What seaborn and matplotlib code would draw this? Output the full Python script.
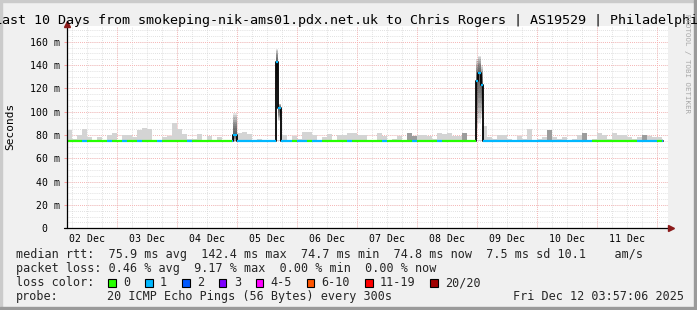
import numpy as np
import pandas as pd
import matplotlib
matplotlib.use("Agg")
import matplotlib.pyplot as plt
from matplotlib.patches import Rectangle
import seaborn as sns

# ---------------- data ----------------
title = ("Last 10 Days from smokeping-nik-ams01.pdx.net.uk to Chris Rogers "
         "| AS19529 | Philadelphia")
day_labels = ["02 Dec", "03 Dec", "04 Dec", "05 Dec", "06 Dec",
              "07 Dec", "08 Dec", "09 Dec", "10 Dec", "11 Dec"]
# hours since Dec 2 04:00 (left edge of the graph)
label_hours = [8, 32, 56, 80, 104, 128, 152, 176, 200, 224]
midnight_hours = [20, 44, 68, 92, 116, 140, 164, 188, 212, 236]
y_ticks = [0, 20, 40, 60, 80, 100, 120, 140, 160]
y_tick_labels = ["0  ", "20 m", "40 m", "60 m", "80 m", "100 m", "120 m", "140 m", "160 m"]

bin_hours = 2.0
data_end = 238.6
median_base = 75.0
# top of the smoke (ms) per 2-hour bin
smoke_top = [84, 77, 80, 85, 78, 76, 78, 76, 80, 82,
             76, 80, 80, 78, 84, 86, 85, 76, 76, 78,
             79, 90, 85, 81, 77, 77, 81, 76, 79, 76,
             78, 76, 76, 76, 82, 83, 81, 76, 77, 76,
             76, 76, 76, 80, 76, 79, 77, 83, 83, 80,
             76, 78, 81, 76, 80, 80, 82, 82, 80, 80,
             76, 76, 82, 79, 76, 77, 79, 76, 82, 79,
             80, 80, 79, 77, 82, 81, 82, 79, 79, 82,
             76, 76, 76, 88, 78, 77, 80, 80, 77, 76,
             79, 77, 85, 76, 77, 78, 84, 78, 77, 78,
             76, 77, 80, 82, 76, 77, 82, 80, 77, 82,
             80, 80, 78, 77, 78, 80, 79, 78, 78, 77]
smoke_dark = [0, 0, 0, 0, 0, 0, 0, 0, 0, 0,
              0, 0, 0, 0, 0, 0, 0, 0, 0, 0,
              0, 0, 0, 0, 0, 0, 0, 0, 0, 0,
              0, 0, 0, 0, 0, 0, 0, 0, 0, 0,
              0, 0, 0, 0, 0, 0, 0, 0, 0, 0,
              0, 0, 0, 0, 0, 0, 0, 0, 0, 0,
              0, 0, 0, 0, 0, 0, 0, 0, 1, 1,
              0, 0, 0, 0, 0, 0, 0, 0, 0, 1,
              0, 0, 0, 0, 0, 0, 0, 0, 0, 0,
              0, 0, 0, 0, 0, 0, 1, 0, 0, 0,
              0, 0, 0, 1, 0, 0, 0, 0, 0, 0,
              0, 0, 0, 0, 0, 1, 0, 0, 0, 0]
# lost pings per bin (0 -> green, 1 -> light blue)
loss_count = [0, 0, 0, 1, 0, 0, 0, 0, 1, 0,
              0, 1, 0, 0, 1, 0, 0, 0, 1, 0,
              0, 0, 0, 0, 1, 0, 0, 0, 0, 0,
              0, 0, 0, 1, 1, 1, 1, 1, 1, 1,
              1, 1, 1, 1, 1, 0, 1, 1, 0, 1,
              1, 0, 0, 0, 0, 0, 1, 0, 0, 0,
              0, 0, 0, 1, 0, 0, 0, 0, 0, 1,
              0, 0, 0, 0, 1, 0, 0, 0, 0, 0,
              0, 0, 1, 1, 1, 1, 1, 1, 1, 1,
              1, 1, 1, 1, 1, 1, 1, 1, 1, 1,
              1, 1, 1, 1, 1, 0, 0, 0, 0, 0,
              0, 0, 0, 0, 1, 1, 1, 1, 0, 1]

# latency spikes
spike_start = [66.4, 83.6, 84.4, 163.9, 164.7, 165.9]
spike_end = [68.0, 84.4, 85.8, 164.7, 165.9, 166.6]
spike_median = [80.0, 142.4, 103.0, 126.0, 133.0, 123.0]
spike_low = [74.0, 118.0, 92.0, 86.0, 90.0, 95.0]
spike_high = [99.0, 154.0, 107.0, 145.0, 148.0, 140.0]
spike_loss = [1, 1, 1, 1, 1, 1]

legend_lines = [
    "median rtt:  75.9 ms avg  142.4 ms max  74.7 ms min  74.8 ms now  7.5 ms sd 10.1    am/s",
    "packet loss: 0.46 % avg  9.17 % max  0.00 % min  0.00 % now",
]
loss_labels = ["0", "1", "2", "3", "4-5", "6-10", "11-19", "20/20"]
loss_colors = ["#26ff00", "#00b8ff", "#0059ff", "#7e00ff", "#ff00ff",
               "#ff5500", "#ff0000", "#a00000"]
probe_text = "20 ICMP Echo Pings (56 Bytes) every 300s"
stamp_text = "Fri Dec 12 03:57:06 2025"

# ---------------- build tables ----------------
starts = np.arange(len(smoke_top)) * bin_hours
bins = pd.DataFrame({
    "start": starts,
    "end": np.minimum(starts + bin_hours, data_end),
    "top": smoke_top,
    "dark": smoke_dark,
    "loss": loss_count,
})
spikes = pd.DataFrame({
    "start": spike_start, "end": spike_end, "med": spike_median,
    "low": spike_low, "high": spike_high, "loss": spike_loss,
})

# median segments: bins cut around spike intervals + spike segments
segs = []
for b in bins.itertuples():
    pieces = [(b.start, b.end)]
    for s in spikes.itertuples():
        new = []
        for a, e in pieces:
            if s.end <= a or s.start >= e:
                new.append((a, e))
            else:
                if s.start > a:
                    new.append((a, s.start))
                if s.end < e:
                    new.append((s.end, e))
        pieces = new
    for a, e in pieces:
        segs.append((a, e, median_base, b.loss))
for s in spikes.itertuples():
    segs.append((s.start, s.end, s.med, s.loss))
segs = pd.DataFrame(segs, columns=["start", "end", "med", "loss"]).sort_values("start")

# ---------------- style ----------------
sns.set_theme(style="white")
plt.rcParams["font.family"] = ["DejaVu Sans Mono", "DejaVu Sans"]

W, H = 697, 310
fig = plt.figure(figsize=(W / 100, H / 100), dpi=100, facecolor="#f0f0f0")
ax_l, ax_r, ax_t, ax_b = 66.7, 667.7, 26.0, 228.3
ax = fig.add_axes([ax_l / W, 1 - ax_b / H, (ax_r - ax_l) / W, (ax_b - ax_t) / H])
ax.set_facecolor("white")
ax.set_xlim(0, 240.4)
ax.set_ylim(0, 173.5)

# frame shading
fig.patches.append(Rectangle((0, 1 - 2 / H), 1, 2 / H, transform=fig.transFigure,
                             color="#cbcbcb", zorder=0))
fig.patches.append(Rectangle((0, 0), 2 / W, 1, transform=fig.transFigure,
                             color="#cbcbcb", zorder=0))
fig.patches.append(Rectangle((0, 0), 1, 3 / H, transform=fig.transFigure,
                             color="#9a9a9a", zorder=0))
fig.patches.append(Rectangle((1 - 3 / W, 0), 3 / W, 1, transform=fig.transFigure,
                             color="#9a9a9a", zorder=0))

# grid
dot = (0, (1, 1.5))
six_hours = np.arange(2, 240.4, 6)
ax.vlines(six_hours, 0, 1, transform=ax.get_xaxis_transform(), colors="#d6d6d6",
          linestyles=dot, linewidth=0.6, zorder=0)
ax.hlines(np.arange(5, 173.5, 5), 0, 1, transform=ax.get_yaxis_transform(),
          colors="#d6d6d6", linestyles=dot, linewidth=0.6, zorder=0)
ax.vlines(midnight_hours, 0, 1, transform=ax.get_xaxis_transform(), colors="#ffa8a8",
          linestyles=dot, linewidth=0.6, zorder=0.5)
ax.hlines(y_ticks[1:], 0, 1, transform=ax.get_yaxis_transform(), colors="#ffa8a8",
          linestyles=dot, linewidth=0.6, zorder=0.5)

# smoke for ordinary bins
shade = np.where(bins["dark"] == 1, "#9c9c9c", "#d4d4d4")
ax.bar(bins["start"], bins["top"] - median_base, width=bins["end"] - bins["start"],
       bottom=median_base, align="edge", color=shade, linewidth=0, zorder=1)

# smoke for spikes (layered gradient)
n_layers = 10
for s in spikes.itertuples():
    for k in range(1, n_layers + 1):
        lo = s.med - (s.med - s.low) * k / n_layers
        hi = s.med + (s.high - s.med) * k / n_layers
        ax.bar(s.start, hi - lo, width=s.end - s.start, bottom=lo, align="edge",
               color="#303030", alpha=0.13, linewidth=0, zorder=1.2)

# black step outline of the median
ax.plot(segs["start"].tolist() + [segs["end"].iloc[-1]],
        segs["med"].tolist() + [segs["med"].iloc[-1]],
        drawstyle="steps-post", color="black", linewidth=1.3, zorder=2)
# coloured median line
seg_colors = [loss_colors[int(l)] for l in segs["loss"]]
ax.hlines(segs["med"], segs["start"], segs["end"], colors=seg_colors,
          linewidth=1.6, zorder=3)

# axes
for sp in ax.spines.values():
    sp.set_visible(False)
ax.plot([0, 0], [0, 1.012], transform=ax.transAxes, color="black", lw=0.9,
        clip_on=False, zorder=4)
ax.plot([-0.004, 1.006], [0, 0], transform=ax.transAxes, color="black", lw=0.9,
        clip_on=False, zorder=4)
ax.plot([0], [1.012], transform=ax.transAxes, marker="^", color="#8b1a1a",
        markersize=4.5, clip_on=False, zorder=5)
ax.plot([1.006], [0], transform=ax.transAxes, marker=">", color="#8b1a1a",
        markersize=4.5, clip_on=False, zorder=5)

ax.set_yticks(y_ticks)
ax.set_yticklabels(y_tick_labels)
ax.set_xticks(label_hours)
ax.set_xticklabels(day_labels)
ax.tick_params(axis="y", length=2.2, width=0.7, color="#ff9a9a", pad=2.9,
               labelsize=7.1, labelcolor="black", left=True)
ax.tick_params(axis="x", length=0, pad=4.0, labelsize=7.1, labelcolor="black",
               bottom=True)
ax.grid(False)

fig.text(10 / W, 1 - 126.7 / H, "Seconds", rotation=90, ha="center", va="center",
         fontsize=8, color="black")

# title (clipped by the canvas like the original)
fig.text(-6.3 / W, 1 - 24 / H, title, ha="left", va="baseline", fontsize=9.6,
         color="black")
# watermark
fig.text(686.5 / W, 1 - 63 / H, "RRDTOOL / TOBI OETIKER", rotation=270,
         ha="center", va="center", fontsize=5.4, color="#a8a8a8")

# legend area
fs = 8.5
cw = 7.12
fig.text(16 / W, 1 - 258.3 / H, legend_lines[0], ha="left", va="baseline", fontsize=fs)
fig.text(16 / W, 1 - 272.3 / H, legend_lines[1], ha="left", va="baseline", fontsize=fs)
fig.text(16 / W, 1 - 286.3 / H, "loss color:", ha="left", va="baseline", fontsize=fs)
x = 108.3
for lab, col in zip(loss_labels, loss_colors):
    fig.patches.append(Rectangle((x / W, 1 - 286.7 / H), 7.7 / W, 7.7 / H,
                                 transform=fig.transFigure, facecolor=col,
                                 edgecolor="black", linewidth=0.8, zorder=3))
    fig.text((x + 15) / W, 1 - 286.3 / H, lab, ha="left", va="baseline", fontsize=fs)
    x = x + 15 + len(lab) * cw + 14.7
fig.text(16 / W, 1 - 300 / H, "probe:", ha="left", va="baseline", fontsize=fs)
fig.text(107.3 / W, 1 - 300 / H, probe_text, ha="left", va="baseline", fontsize=fs)
fig.text(513.3 / W, 1 - 300 / H, stamp_text, ha="left", va="baseline", fontsize=fs)

fig.savefig("out.png", dpi=100, facecolor=fig.get_facecolor())
